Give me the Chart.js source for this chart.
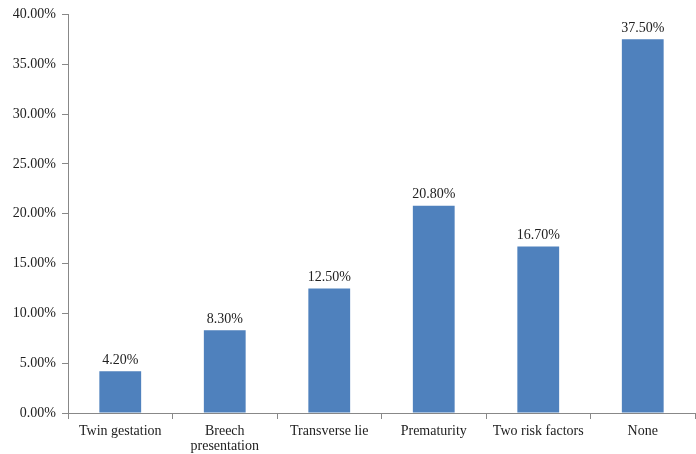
<!DOCTYPE html>
<html><head><meta charset="utf-8">
<script src="https://cdn.jsdelivr.net/npm/chart.js@4/dist/chart.umd.min.js"></script>
<style>html,body{margin:0;padding:0;background:#fff}#wrap{width:696px;height:454px}</style>
</head><body><div id="wrap"><canvas id="c" width="696" height="454"></canvas></div>
<script>
const categories = ["Twin gestation", ["Breech", "presentation"], "Transverse lie", "Prematurity", "Two risk factors", "None"];
const values = [4.2, 8.3, 12.5, 20.8, 16.7, 37.5];
const yTicks = [0, 5, 10, 15, 20, 25, 30, 35, 40];
const FONT = "'Liberation Serif', 'Times New Roman', serif";
const labelPlugin = {
  id: 'valueLabels',
  afterDatasetsDraw(chart) {
    const ctx = chart.ctx;
    const meta = chart.getDatasetMeta(0);
    ctx.save();
    ctx.font = "14px " + FONT;
    ctx.fillStyle = '#222';
    ctx.textAlign = 'center';
    ctx.textBaseline = 'bottom';
    meta.data.forEach((bar, i) => {
      ctx.fillText(values[i].toFixed(2) + '%', bar.x, bar.y - 4);
    });
    ctx.restore();
  }
};
new Chart(document.getElementById('c'), {
  type: 'bar',
  data: {
    labels: categories,
    datasets: [{ data: values, backgroundColor: '#4F81BD', categoryPercentage: 0.4, barPercentage: 1.0 }]
  },
  options: {
    responsive: false,
    animation: false,
    layout: { padding: { top: 10, right: 1, left: 0, bottom: 0 } },
    plugins: { legend: { display: false }, tooltip: { enabled: false } },
    scales: {
      y: {
        min: 0, max: 40,
        afterBuildTicks(s) { s.ticks = yTicks.map(v => ({ value: v })); },
        afterFit(s) { s.width = 68; },
        border: { display: true, color: '#888' },
        grid: { drawOnChartArea: false, drawTicks: true, tickLength: 6, color: '#888' },
        ticks: { font: { family: FONT, size: 14 }, color: '#222', padding: 6,
          callback: v => v.toFixed(2) + '%' }
      },
      x: {
        afterFit(s) { s.height = 41; },
        border: { display: true, color: '#888' },
        grid: { offset: true, drawOnChartArea: false, drawTicks: true, tickLength: 6, color: '#888' },
        ticks: { font: { family: FONT, size: 14, lineHeight: 1.05 }, color: '#222', padding: 5, maxRotation: 0, autoSkip: false }
      }
    }
  },
  plugins: [labelPlugin]
});
</script></body></html>
